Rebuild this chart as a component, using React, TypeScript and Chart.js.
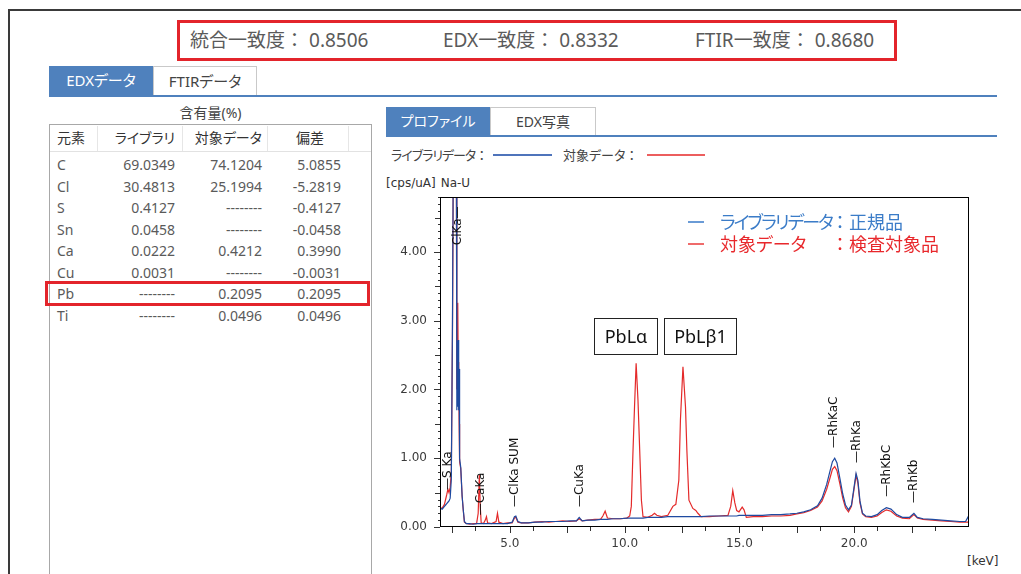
import React, { useEffect, useRef } from "react";
import { Chart, registerables } from "chart.js";

Chart.register(...registerables);

// ---------- spectrum data ----------
const energyKeV = [
  2.0, 2.05, 2.1, 2.15, 2.2, 2.25, 2.3, 2.35, 2.4, 2.45, 2.5, 2.55, 2.62, 2.67, 2.69, 2.71, 2.73, 2.75, 2.77, 2.79,
  2.81, 2.86, 2.92, 2.97, 3.02, 3.1, 3.25, 3.4, 3.55, 3.62, 3.67, 3.71, 3.75, 3.85, 3.93, 3.98, 4.03, 4.2, 4.4, 4.46,
  4.52, 4.7, 4.9, 5.1, 5.2, 5.26, 5.35, 5.5, 5.8, 6.1, 6.4, 6.7, 7.0, 7.3, 7.6, 7.9, 8.02, 8.15, 8.4, 8.7,
  8.95, 9.05, 9.15, 9.25, 9.5, 9.8, 10.1, 10.22, 10.29, 10.36, 10.43, 10.5, 10.58, 10.65, 10.73, 10.8, 11.0, 11.2, 11.3, 11.4,
  11.6, 11.88, 12.1, 12.23, 12.36, 12.43, 12.54, 12.65, 12.71, 12.8, 12.97, 13.1, 13.19, 13.33, 13.7, 14.1, 14.5, 14.62, 14.71, 14.8,
  14.88, 14.98, 15.12, 15.2, 15.3, 15.6, 16.0, 16.4, 16.8, 17.2, 17.5, 17.8, 18.1, 18.4, 18.6, 18.8, 18.95, 19.05, 19.15, 19.25,
  19.38, 19.5, 19.62, 19.75, 19.88, 19.98, 20.08, 20.16, 20.25, 20.36, 20.5, 20.75, 21.0, 21.2, 21.4, 21.6, 21.85, 22.1, 22.4, 22.6,
  22.75, 23.0, 23.4, 23.8, 24.2, 24.6, 24.85, 24.95, 25.0,
];

const libraryCounts = [
  0.27, 0.26, 0.28, 0.3, 0.32, 0.34, 0.36, 0.38, 0.42, 0.7, 3.0, 6.5, 8.0, 5.5, 1.7, 2.7, 1.75, 2.72, 1.7, 2.3,
  1.0, 0.87, 0.45, 0.25, 0.08, 0.05, 0.05, 0.04, 0.05, 0.05, 0.05, 0.05, 0.05, 0.05, 0.05, 0.05, 0.05, 0.05, 0.05, 0.05,
  0.05, 0.05, 0.05, 0.07, 0.15, 0.16, 0.08, 0.06, 0.06, 0.07, 0.07, 0.08, 0.08, 0.08, 0.09, 0.09, 0.14, 0.09, 0.1, 0.1,
  0.11, 0.11, 0.11, 0.11, 0.12, 0.12, 0.13, 0.13, 0.13, 0.13, 0.13, 0.13, 0.13, 0.13, 0.13, 0.13, 0.14, 0.14, 0.14, 0.14,
  0.14, 0.15, 0.15, 0.15, 0.15, 0.15, 0.15, 0.15, 0.15, 0.15, 0.15, 0.15, 0.15, 0.15, 0.16, 0.16, 0.16, 0.16, 0.16, 0.16,
  0.16, 0.17, 0.17, 0.17, 0.17, 0.17, 0.17, 0.18, 0.18, 0.19, 0.2, 0.22, 0.25, 0.31, 0.42, 0.62, 0.82, 0.95, 1.0, 0.93,
  0.7, 0.48, 0.32, 0.25, 0.32, 0.55, 0.78, 0.68, 0.38, 0.2, 0.16, 0.15, 0.18, 0.24, 0.28, 0.26, 0.18, 0.14, 0.14, 0.2,
  0.14, 0.12, 0.11, 0.1, 0.09, 0.08, 0.08, 0.14, 0.17,
];

const targetCounts = [
  0.27, 0.28, 0.3, 0.33, 0.4, 0.47, 0.55, 0.5, 0.58, 0.8, 2.8, 6.2, 7.5, 5.2, 2.0, 2.9, 3.26, 2.4, 2.3, 1.5,
  0.95, 0.85, 0.45, 0.24, 0.07, 0.05, 0.04, 0.05, 0.05, 0.2, 0.76, 0.3, 0.06, 0.05, 0.1, 0.15, 0.06, 0.05, 0.08, 0.2,
  0.07, 0.05, 0.06, 0.06, 0.13, 0.14, 0.07, 0.06, 0.06, 0.07, 0.08, 0.07, 0.08, 0.09, 0.08, 0.09, 0.12, 0.09, 0.1, 0.11,
  0.11, 0.16, 0.23, 0.13, 0.12, 0.12, 0.13, 0.16, 0.3, 1.07, 1.75, 2.38, 1.85, 1.17, 0.39, 0.15, 0.14, 0.17, 0.2, 0.17,
  0.15, 0.17, 0.3, 0.33, 0.68, 1.56, 2.33, 1.75, 1.12, 0.39, 0.27, 0.24, 0.2, 0.15, 0.15, 0.16, 0.17, 0.3, 0.53, 0.35,
  0.24, 0.22, 0.29, 0.25, 0.14, 0.15, 0.15, 0.16, 0.16, 0.17, 0.19, 0.21, 0.24, 0.29, 0.38, 0.55, 0.72, 0.84, 0.88, 0.82,
  0.62, 0.42, 0.28, 0.22, 0.3, 0.52, 0.75, 0.64, 0.35, 0.19, 0.15, 0.14, 0.16, 0.21, 0.25, 0.23, 0.16, 0.13, 0.12, 0.18,
  0.13, 0.11, 0.1, 0.09, 0.08, 0.07, 0.07, 0.07, 0.07,
];

const yTickValues = [0, 1, 2, 3, 4];
const xTickValues = [5, 10, 15, 20];

// peak identification labels
const peakLabels = ["—S Ka", "ClKa—", "—CaKa", "—ClKa SUM", "—CuKa", "—RhKaC", "—RhKa", "—RhKbC", "—RhKb"];
const peakLabelEnergy = [2.3, 2.72, 3.72, 5.2, 8.04, 19.13, 20.13, 21.43, 22.6];
const peakLabelBase = [0.54, 4.1, 0.17, 0.29, 0.29, 1.15, 0.93, 0.44, 0.35];

// highlighted Pb lines
const pbBoxTexts = ["PbLα", "PbLβ1"];
const pbBoxLeft = [8.65, 11.7];
const pbBoxRight = [11.43, 14.87];
const pbBoxTop = 3.04;
const pbBoxBottom = 2.51;

// ---------- content table ----------
const elements = ["C", "Cl", "S", "Sn", "Ca", "Cu", "Pb", "Ti"];
const libraryContent = ["69.0349", "30.4813", "0.4127", "0.0458", "0.0222", "0.0031", "--------", "--------"];
const targetContent = ["74.1204", "25.1994", "--------", "--------", "0.4212", "--------", "0.2095", "0.0496"];
const deviationContent = ["5.0855", "-5.2819", "-0.4127", "-0.0458", "0.3990", "-0.0031", "0.2095", "0.0496"];

const scores = [
  { label: "統合一致度：", value: "0.8506", x: 190 },
  { label: "EDX一致度：", value: "0.8332", x: 443 },
  { label: "FTIR一致度：", value: "0.8680", x: 695 },
];

const UI_FONT = '"Noto Sans", "Noto Sans CJK JP", sans-serif';
const BLUE_TAB = "#4f81bd";
const RED = "#e3242b";

const annotPlugin = {
  id: "spectrumAnnotations",
  afterDraw(chart: any) {
    const { ctx, chartArea, scales } = chart;
    const xs = scales.x;
    const ys = scales.y;
    ctx.save();
    // frame
    ctx.strokeStyle = "#000";
    ctx.lineWidth = 1;
    ctx.strokeRect(chartArea.left - 0.5, chartArea.top + 0.5, chartArea.right - chartArea.left, chartArea.bottom - chartArea.top - 1);

    // y ticks
    ctx.strokeStyle = "#333";
    ctx.beginPath();
    for (let i = 0; i <= 48; i++) {
      const v = i / 10;
      const py = Math.round(ys.getPixelForValue(v)) + 0.5;
      const len = i % 10 === 0 ? 6 : i % 5 === 0 ? 5 : 2;
      ctx.moveTo(chartArea.left - 1, py);
      ctx.lineTo(chartArea.left - 1 - len, py);
    }
    // x ticks
    for (let k = 0; k <= 10; k++) {
      const major = k * 2.5;
      [major, major + 1].forEach((v, j) => {
        if (v <= xs.min || v >= xs.max) return;
        const px = Math.round(xs.getPixelForValue(v)) + 0.5;
        const len = j === 0 ? 6 : 4;
        ctx.moveTo(px, chartArea.bottom);
        ctx.lineTo(px, chartArea.bottom + len);
      });
    }
    ctx.stroke();

    // peak labels
    ctx.fillStyle = "#111";
    ctx.font = '12px "DejaVu Sans"';
    ctx.textAlign = "left";
    ctx.textBaseline = "middle";
    peakLabels.forEach((t, i) => {
      ctx.save();
      ctx.translate(xs.getPixelForValue(peakLabelEnergy[i]), ys.getPixelForValue(peakLabelBase[i]));
      ctx.rotate(-Math.PI / 2);
      ctx.fillText(t, 0, 0);
      ctx.restore();
    });

    // Pb boxes
    ctx.font = '18px "Noto Sans"';
    ctx.textAlign = "center";
    pbBoxTexts.forEach((t, i) => {
      const l = Math.round(xs.getPixelForValue(pbBoxLeft[i])) + 0.5;
      const r = Math.round(xs.getPixelForValue(pbBoxRight[i])) + 0.5;
      const tp = Math.round(ys.getPixelForValue(pbBoxTop)) + 0.5;
      const bt = Math.round(ys.getPixelForValue(pbBoxBottom)) + 0.5;
      ctx.fillStyle = "#fff";
      ctx.fillRect(l, tp, r - l, bt - tp);
      ctx.strokeStyle = "#222";
      ctx.lineWidth = 1;
      ctx.strokeRect(l, tp, r - l, bt - tp);
      ctx.fillStyle = "#111";
      ctx.fillText(t, (l + r) / 2, (tp + bt) / 2 + 1);
    });
    ctx.restore();
  },
};

function Spectrum() {
  const ref = useRef<HTMLCanvasElement | null>(null);
  useEffect(() => {
    if (!ref.current) return;
    const chart = new Chart(ref.current, {
      type: "line",
      data: {
        datasets: [
          {
            label: "ライブラリデータ",
            data: energyKeV.map((e, i) => ({ x: e, y: libraryCounts[i] })),
            borderColor: "#1f4aa0",
            borderWidth: 1.2,
            pointRadius: 0,
            tension: 0,
            fill: false,
          },
          {
            label: "対象データ",
            data: energyKeV.map((e, i) => ({ x: e, y: targetCounts[i] })),
            borderColor: "#e42a2a",
            borderWidth: 1.2,
            pointRadius: 0,
            tension: 0,
            fill: false,
          },
        ],
      },
      options: {
        animation: false,
        responsive: false,
        maintainAspectRatio: false,
        layout: { padding: { left: 0, top: 57, right: 52, bottom: 0 } },
        plugins: { legend: { display: false }, tooltip: { enabled: false } },
        scales: {
          x: {
            type: "linear",
            min: 2,
            max: 25,
            grid: { display: false, drawTicks: false },
            border: { display: false },
            ticks: {
              padding: 10,
              color: "#3a3a3a",
              font: { family: "DejaVu Sans", size: 12 },
              maxRotation: 0,
              autoSkip: false,
              callback: (v: any) => Number(v).toFixed(1),
            },
            afterBuildTicks: (s: any) => {
              s.ticks = xTickValues.map((v) => ({ value: v }));
            },
            afterFit: (s: any) => {
              s.height = 47;
            },
          },
          y: {
            type: "linear",
            min: 0,
            max: 4.8,
            grid: { display: false, drawTicks: false },
            border: { display: false },
            ticks: {
              padding: 14,
              color: "#3a3a3a",
              font: { family: "DejaVu Sans", size: 12 },
              autoSkip: false,
              callback: (v: any) => Number(v).toFixed(2),
            },
            afterBuildTicks: (s: any) => {
              s.ticks = yTickValues.map((v) => ({ value: v }));
            },
            afterFit: (s: any) => {
              s.width = 61;
            },
          },
        },
      },
      plugins: [annotPlugin],
    } as any);
    return () => chart.destroy();
  }, []);
  return (
    <canvas
      ref={ref}
      width={641}
      height={434}
      style={{ position: "absolute", left: 380, top: 140, width: 641, height: 434 }}
    />
  );
}

const abs = (s: React.CSSProperties): React.CSSProperties => ({ position: "absolute", ...s });

export default function App() {
  const rowY = [165, 186.5, 208, 229.5, 251, 272.5, 294, 315.5];
  return (
    <div
      style={{
        position: "fixed",
        left: 0,
        top: 0,
        width: 1021,
        height: 574,
        background: "#fff",
        overflow: "hidden",
        fontFamily: UI_FONT,
      }}
    >
      {/* window frame */}
      <div style={abs({ left: 8, top: 9, width: 1013, height: 2, background: "#3a3a3a" })} />
      <div style={abs({ left: 8, top: 9, width: 2, height: 565, background: "#3a3a3a" })} />

      {/* score header */}
      <div
        style={abs({ left: 177, top: 20, width: 720, height: 41, border: `3px solid ${RED}`, boxSizing: "border-box" })}
      />
      {scores.map((s) => (
        <div
          key={s.label}
          style={abs({ left: s.x, top: 28, height: 24, lineHeight: "24px", fontSize: 19, color: "#5a5a5a", whiteSpace: "nowrap" })}
        >
          {s.label}
          <span style={{ marginLeft: 5 }}>{s.value}</span>
        </div>
      ))}

      {/* main tabs */}
      <div
        style={abs({ left: 49, top: 66, width: 104, height: 29, background: BLUE_TAB, color: "#fff", fontSize: 15, lineHeight: "29px", textAlign: "center", fontFeatureSettings: '"palt"' })}
      >
        EDXデータ
      </div>
      <div
        style={abs({ left: 153, top: 66, width: 104, height: 29, border: "1px solid #c9c9c9", borderBottom: "none", boxSizing: "border-box", color: "#444", fontSize: 15, lineHeight: "28px", textAlign: "center", fontFeatureSettings: '"palt"' })}
      >
        FTIRデータ
      </div>
      <div style={abs({ left: 49, top: 95, width: 948, height: 2, background: BLUE_TAB })} />

      {/* content table */}
      <div style={abs({ left: 49, top: 104, width: 323, height: 18, lineHeight: "18px", textAlign: "center", fontSize: 14, color: "#444", fontFeatureSettings: '"palt"' })}>
        含有量(%)
      </div>
      <div style={abs({ left: 49, top: 124, width: 323, height: 470, border: "1px solid #a8a8a8", boxSizing: "border-box", background: "#fff" })} />
      <div style={abs({ left: 50, top: 151, width: 321, height: 1, background: "#e2e2e2" })} />
      {[97, 182, 267, 348].map((x) => (
        <div key={x} style={abs({ left: x, top: 126, width: 1, height: 25, background: "#e6e6e6" })} />
      ))}
      <div style={abs({ left: 57, top: 128, lineHeight: "20px", fontSize: 14, color: "#333" })}>元素</div>
      <div style={abs({ left: 100, width: 75, top: 128, lineHeight: "20px", fontSize: 14, color: "#333", textAlign: "right", fontFeatureSettings: '"palt"' })}>ライブラリ</div>
      <div style={abs({ left: 185, width: 77, top: 128, lineHeight: "20px", fontSize: 14, color: "#333", textAlign: "right", fontFeatureSettings: '"palt"' })}>対象データ</div>
      <div style={abs({ left: 270, width: 78, top: 128, lineHeight: "20px", fontSize: 14, color: "#333", textAlign: "center", paddingLeft: 2, boxSizing: "border-box" })}>偏差</div>
      {elements.map((el, i) => (
        <React.Fragment key={el}>
          <div style={abs({ left: 57, top: rowY[i] - 10, lineHeight: "20px", fontSize: 14, color: "#5a5a5a" })}>{el}</div>
          <div style={abs({ left: 100, width: 75, top: rowY[i] - 10, lineHeight: "20px", fontSize: 14, color: "#5a5a5a", textAlign: "right" })}>{libraryContent[i]}</div>
          <div style={abs({ left: 185, width: 77, top: rowY[i] - 10, lineHeight: "20px", fontSize: 14, color: "#5a5a5a", textAlign: "right" })}>{targetContent[i]}</div>
          <div style={abs({ left: 262, width: 79, top: rowY[i] - 10, lineHeight: "20px", fontSize: 14, color: "#5a5a5a", textAlign: "right" })}>{deviationContent[i]}</div>
        </React.Fragment>
      ))}
      <div style={abs({ left: 45, top: 281, width: 325, height: 25, border: `3px solid ${RED}`, boxSizing: "border-box" })} />

      {/* right tabs */}
      <div
        style={abs({ left: 386, top: 107, width: 104, height: 28, background: BLUE_TAB, color: "#fff", fontSize: 14, lineHeight: "28px", textAlign: "center", fontFeatureSettings: '"palt"' })}
      >
        プロファイル
      </div>
      <div
        style={abs({ left: 490, top: 107, width: 106, height: 28, border: "1px solid #c9c9c9", borderBottom: "none", boxSizing: "border-box", color: "#444", fontSize: 14, lineHeight: "27px", textAlign: "center" })}
      >
        EDX写真
      </div>
      <div style={abs({ left: 386, top: 135, width: 611, height: 2, background: BLUE_TAB })} />

      {/* series legend row */}
      <div style={abs({ left: 391, top: 145, lineHeight: "20px", fontSize: 13, color: "#444", whiteSpace: "nowrap" })}>
        <span style={{ fontFeatureSettings: '"palt"', letterSpacing: -1 }}>ライブラリデータ</span>：
      </div>
      <div style={abs({ left: 493, top: 154, width: 59, height: 2, background: "#4f74bb" })} />
      <div style={abs({ left: 563, top: 145, lineHeight: "20px", fontSize: 13, color: "#444", whiteSpace: "nowrap" })}>
        <span style={{ fontFeatureSettings: '"palt"' }}>対象データ</span>：
      </div>
      <div style={abs({ left: 647, top: 154, width: 58, height: 2, background: "#ec5e5e" })} />

      <div style={abs({ left: 386, top: 174, lineHeight: "18px", fontSize: 12, color: "#333", fontFamily: '"DejaVu Sans"', whiteSpace: "nowrap" })}>
        [cps/uA]<span style={{ marginLeft: 5 }}>Na-U</span>
      </div>
      <div style={abs({ left: 967, top: 552, lineHeight: "18px", fontSize: 12, color: "#333", fontFamily: '"DejaVu Sans"' })}>[keV]</div>

      <Spectrum />

      {/* in-plot legend */}
      <div style={abs({ left: 688, top: 221, width: 16, height: 1.5, background: "#6a9bd6" })} />
      <div style={abs({ left: 720, top: 209, lineHeight: "26px", fontSize: 18, color: "#3b7cc8", fontFeatureSettings: '"palt"', letterSpacing: -2, whiteSpace: "nowrap" })}>ライブラリデータ</div>
      <div style={abs({ left: 831, top: 209, lineHeight: "26px", fontSize: 18, color: "#3b7cc8", whiteSpace: "nowrap" })}>：正規品</div>
      <div style={abs({ left: 688, top: 243, width: 16, height: 1.5, background: "#ef6b6b" })} />
      <div style={abs({ left: 720, top: 231, lineHeight: "26px", fontSize: 18, color: "#e8282c", fontFeatureSettings: '"palt"', whiteSpace: "nowrap" })}>対象データ</div>
      <div style={abs({ left: 831, top: 231, lineHeight: "26px", fontSize: 18, color: "#e8282c", whiteSpace: "nowrap" })}>：検査対象品</div>
    </div>
  );
}
